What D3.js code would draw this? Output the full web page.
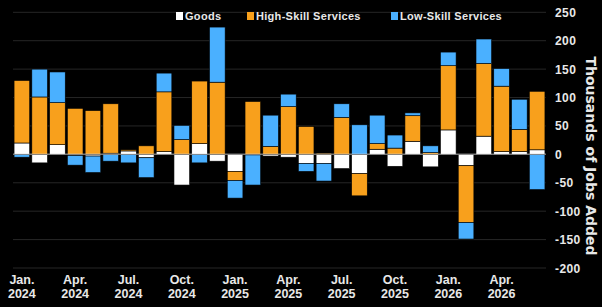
<!DOCTYPE html>
<html><head><meta charset="utf-8">
<script src="https://cdn.jsdelivr.net/npm/d3@7"></script>
<style>html,body{margin:0;padding:0;background:#000;}svg{display:block;}</style>
</head><body>
<svg id="chart" width="602" height="307"></svg>
<script>
const months = ["2024-01","2024-02","2024-03","2024-04","2024-05","2024-06","2024-07","2024-08","2024-09","2024-10","2024-11","2024-12",
"2025-01","2025-02","2025-03","2025-04","2025-05","2025-06","2025-07","2025-08","2025-09","2025-10","2025-11","2025-12",
"2026-01","2026-02","2026-03","2026-04","2026-05","2026-06"];
const goods = [20,-15,17,-2,-3,2,6,-6,5,-54,19,-12, -30,-1,-3,-5,-16,-16,-25,-34,9,-21,23,-22, 43,-20,32,5,5,8];
const highSkill = [110,101,74,81,77,87,2,15,105,26,110,127, -16,93,14,84,49,2,65,-39,10,11,45,3, 113,-100,128,115,39,103];
const lowSkill = [-5,49,54,-17,-29,-12,-15,-35,33,25,-15,97, -31,-53,55,22,-14,-31,24,52,50,23,5,12, 24,-29,43,31,53,-62];
const yTicks = [250,200,150,100,50,0,-50,-100,-150,-200];
const seriesNames = ["Goods","High-Skill Services","Low-Skill Services"];
const seriesColors = ["#ffffff","#f8a01c","#4ab0ff"];
const monthAbbr = ["Jan.","Feb.","Mar.","Apr.","May","Jun.","Jul.","Aug.","Sep.","Oct.","Nov.","Dec."];

const svg = d3.select("#chart");
const x = d3.scaleBand().domain(months).range([13,546]).paddingInner(0.12).paddingOuter(0.06);
const y = d3.scaleLinear().domain([-200,250]).range([268,12.3]);

// gridlines
svg.append("g").selectAll("line").data(yTicks.filter(t=>t!==0)).join("line")
  .attr("x1",13).attr("x2",546).attr("y1",d=>y(d)).attr("y2",d=>y(d))
  .attr("stroke","#262626").attr("stroke-width",1);

const rows = months.map((m,i)=>({month:m, goods:goods[i], high:highSkill[i], low:lowSkill[i]}));
const keys = ["goods","high","low"];
const stack = d3.stack().keys(keys).offset(d3.stackOffsetDiverging)(rows);

svg.append("g").selectAll("g").data(stack).join("g")
  .attr("fill",(d,i)=>seriesColors[i])
  .selectAll("rect").data(d=>d).join("rect")
  .attr("x",d=>x(d.data.month))
  .attr("width",x.bandwidth())
  .attr("y",d=>y(Math.max(d[0],d[1])))
  .attr("height",d=>Math.abs(y(d[0])-y(d[1])))
  .attr("stroke","#000").attr("stroke-width",0.6);

// zero line
svg.append("line").attr("x1",13).attr("x2",546).attr("y1",y(0)).attr("y2",y(0))
  .attr("stroke","rgba(210,210,210,0.55)").attr("stroke-width",1.5);

// right axis labels
svg.append("g").selectAll("text").data(yTicks).join("text")
  .attr("x",555).attr("y",d=>y(d)+4.5)
  .attr("fill","#e8e8e8").attr("font-family","Liberation Sans, Arial, sans-serif")
  .attr("font-weight","bold").attr("font-size",12).attr("letter-spacing",0.4)
  .text(d=>d);

// axis title
svg.append("text")
  .attr("transform","translate(586,156) rotate(90)")
  .attr("text-anchor","middle")
  .attr("fill","#e8e8e8").attr("font-family","DejaVu Sans, sans-serif")
  .attr("font-weight","bold").attr("font-size",14)
  .text("Thousands of Jobs Added");

// x labels
const xl = svg.append("g").selectAll("text").data(months.filter(m=>["01","04","07","10"].includes(m.slice(5)))).join("text")
  .attr("text-anchor","middle")
  .attr("fill","#e8e8e8").attr("font-family","Liberation Sans, Arial, sans-serif")
  .attr("font-weight","bold").attr("font-size",12.5);
xl.append("tspan").attr("x",d=>x(d)+x.bandwidth()/2).attr("y",284).text(d=>monthAbbr[+d.slice(5)-1]);
xl.append("tspan").attr("x",d=>x(d)+x.bandwidth()/2).attr("y",298).text(d=>d.slice(0,4));

// legend
const legX = [176,247,391];
const lg = svg.append("g").selectAll("g").data(seriesNames).join("g")
  .attr("transform",(d,i)=>`translate(${legX[i]},12)`);
lg.append("rect").attr("width",7).attr("height",8).attr("fill",(d,i)=>seriesColors[i]);
lg.append("text").attr("x",9).attr("y",8).attr("fill","#e8e8e8")
  .attr("font-family","Liberation Sans, Arial, sans-serif").attr("font-weight","bold").attr("font-size",11)
  .attr("letter-spacing",0.3)
  .text(d=>d);
</script>
</body></html>
